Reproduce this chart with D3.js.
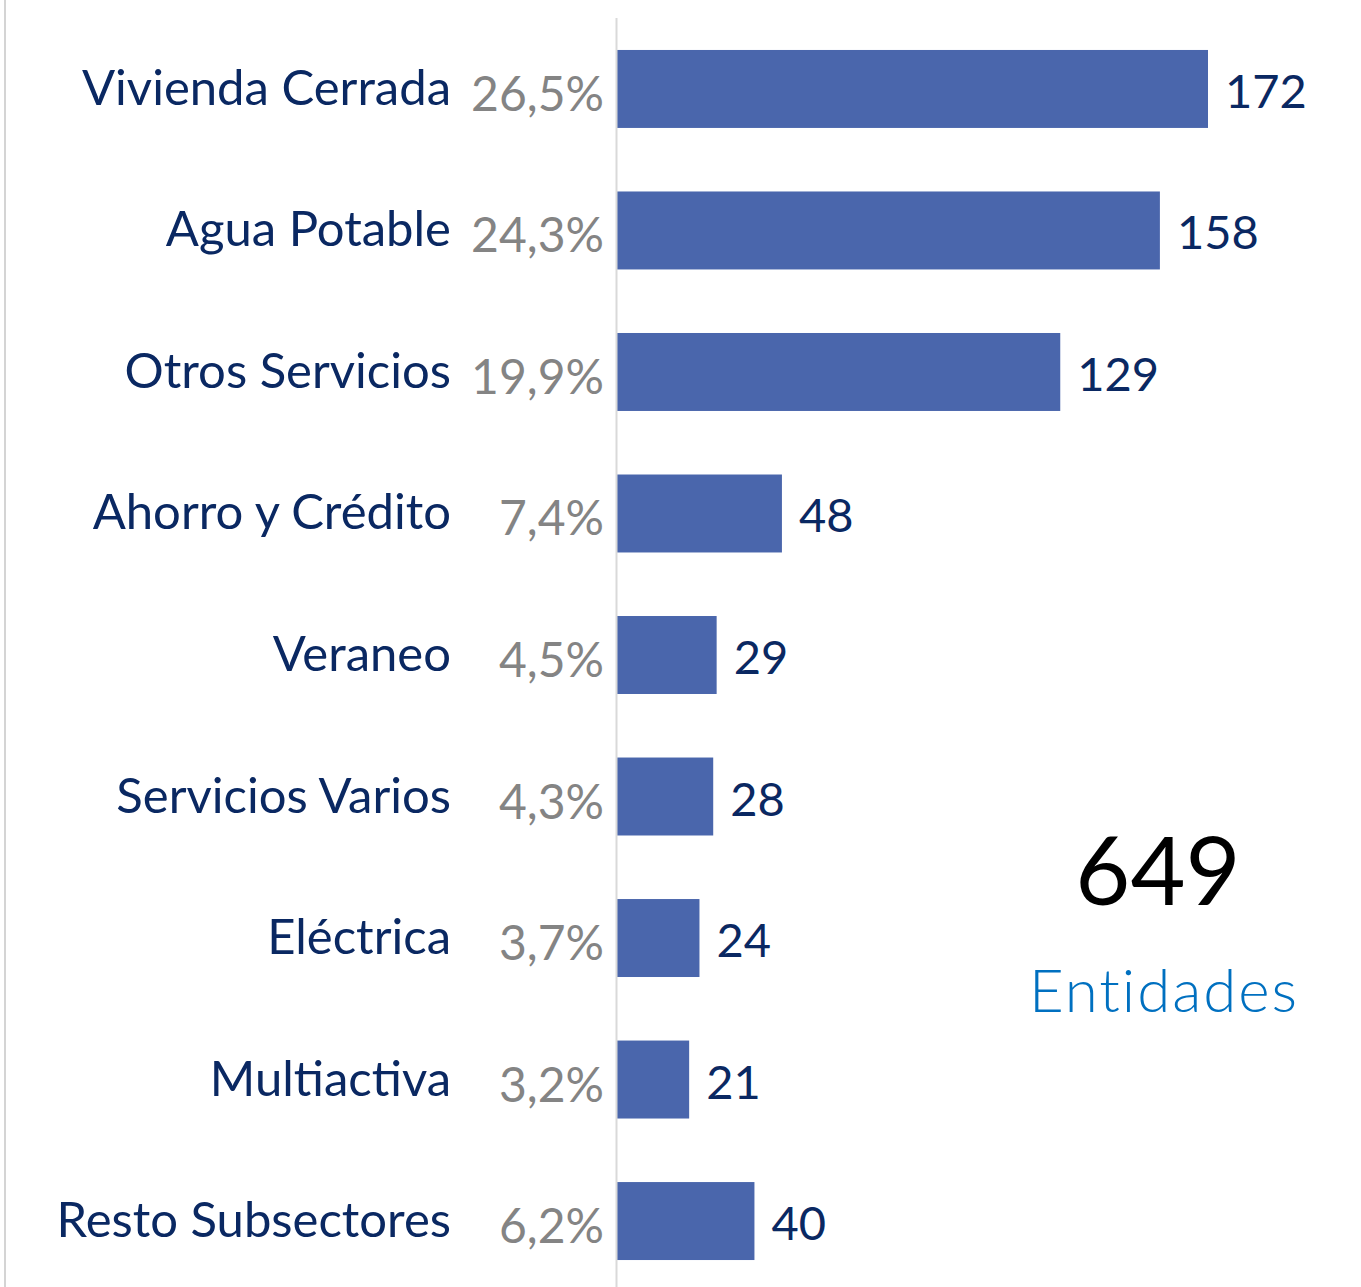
<!DOCTYPE html>
<html><head><meta charset="utf-8">
<script src="https://cdn.jsdelivr.net/npm/d3@7"></script>
<style>html,body{margin:0;padding:0;background:#fff;}</style>
</head><body>
<svg id="c" width="1361" height="1287"></svg>
<script>
const categories = ["Vivienda Cerrada","Agua Potable","Otros Servicios","Ahorro y Crédito","Veraneo","Servicios Varios","Eléctrica","Multiactiva","Resto Subsectores"];
const values = [172,158,129,48,29,28,24,21,40];
const percents = ["26,5%","24,3%","19,9%","7,4%","4,5%","4,3%","3,7%","3,2%","6,2%"];
const totalLabel = "649";
const totalCaption = "Entidades";

const svg = d3.select("#c");
const font = "Lato, 'Open Sans', sans-serif";
const x0 = 617;
const x = d3.scaleLinear().domain([0,172]).range([x0,1208]);
const y = d3.scaleBand().domain(categories).range([18.2,1291.8]).paddingInner(0.449).paddingOuter(0.2245);

// left frame line
svg.append("line").attr("x1",5).attr("x2",5).attr("y1",0).attr("y2",1287).attr("stroke","#d4d4d4").attr("stroke-width",2);

svg.selectAll("rect.bar").data(categories).join("rect").attr("class","bar")
  .attr("x",x(0)).attr("y",d=>y(d)).attr("height",y.bandwidth())
  .attr("width",(d,i)=>x(values[i])-x(0)).attr("fill","#4A66AC");

// axis
svg.append("line").attr("x1",x0-0.5).attr("x2",x0-0.5).attr("y1",18).attr("y2",1287).attr("stroke","#d9d9d9").attr("stroke-width",2);

svg.selectAll("text.cat").data(categories).join("text").attr("class","cat")
  .attr("x",451).attr("y",d=>y(d)+y.bandwidth()/2+16)
  .attr("text-anchor","end").attr("font-family",font).attr("font-size",49)
  .attr("fill","#0A2862").text(d=>d);

svg.selectAll("text.pct").data(categories).join("text").attr("class","pct")
  .attr("x",604).attr("y",d=>y(d)+y.bandwidth()/2+22)
  .attr("text-anchor","end").attr("font-family",font).attr("font-size",48)
  .attr("fill","#848484").text((d,i)=>percents[i]);

svg.selectAll("text.val").data(categories).join("text").attr("class","val")
  .attr("x",(d,i)=>x(values[i])+17).attr("y",d=>y(d)+y.bandwidth()/2+19)
  .attr("font-family",font).attr("font-size",47)
  .attr("fill","#0A2862").text((d,i)=>values[i]);

svg.append("text").attr("x",1158).attr("y",905).attr("text-anchor","middle")
  .attr("font-family",font).attr("font-size",95).attr("fill","#000").text(totalLabel);
svg.append("text").attr("x",1164).attr("y",1012).attr("text-anchor","middle")
  .attr("font-family",font).attr("font-weight",300).attr("font-size",60)
  .attr("letter-spacing",2).attr("fill","#0070C0").text(totalCaption);
</script>
</body></html>
